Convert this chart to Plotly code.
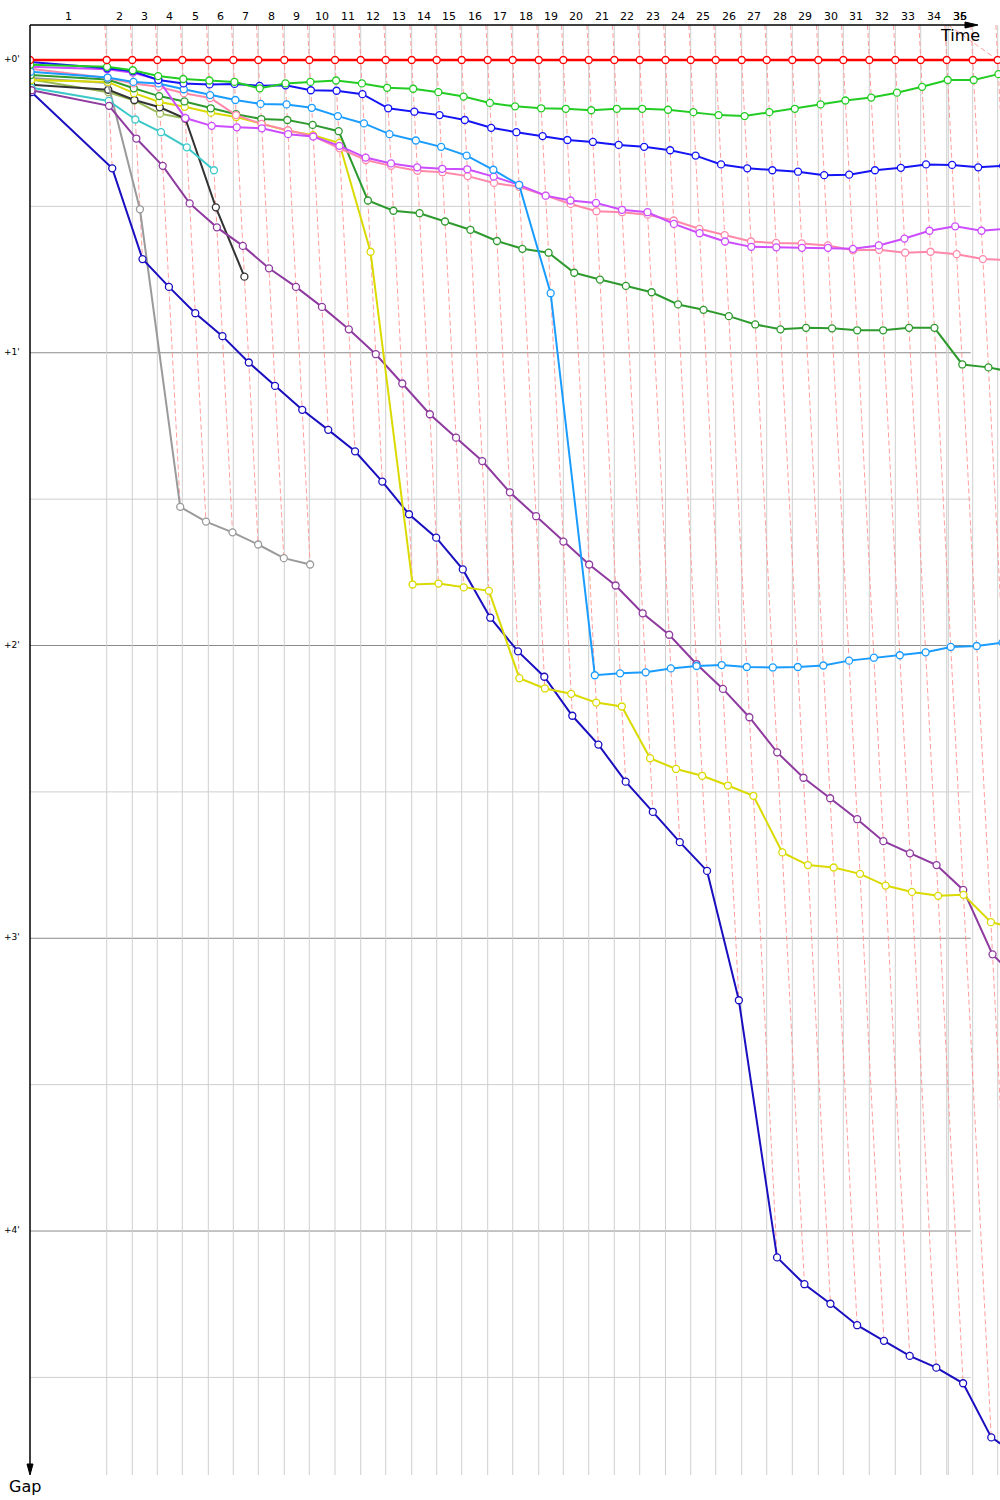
import numpy as np
import plotly.graph_objects as go

# ---------------- data ----------------
# leader lap durations (s), laps 1..37
lap_durations = [306.8, 102.4, 100.0, 100.0, 104.0, 100.0, 100.0, 104.0, 100.0, 102.8,
                 102.8, 100.0, 104.0, 100.0, 100.0, 104.0, 100.0, 104.0, 98.4, 101.6,
                 102.4, 101.6, 103.2, 100.8, 100.0, 104.0, 100.0, 102.4, 104.0, 100.0,
                 104.0, 104.0, 101.6, 104.0, 104.0, 100.0, 100.0]
finish_time = 3673.2          # extra marker line on the time axis
lap_labels = [str(i) for i in range(1, 37)]

# gap to leader (s) for each lap, starting at lap 0
gap_red = [0.0] * 38
gap_green = [1.0, 1.4, 2.1, 3.3, 3.9, 4.2, 4.5, 5.8, 4.8, 4.5, 4.2, 4.8, 5.7, 5.9, 6.6, 7.5,
             8.8, 9.5, 9.9, 10.0, 10.3, 10.0, 10.0, 10.2, 10.7, 11.3, 11.5, 10.7, 10.0, 9.1,
             8.3, 7.7, 6.7, 5.5, 4.1, 4.1, 2.9]
gap_blue = [0.4, 1.7, 2.3, 4.1, 4.8, 5.0, 4.9, 5.3, 5.2, 6.2, 6.3, 7.0, 9.9, 10.6, 11.3, 12.3,
            13.9, 14.8, 15.6, 16.4, 16.8, 17.4, 17.8, 18.5, 19.6, 21.4, 22.2, 22.6, 22.9, 23.6,
            23.5, 22.6, 22.1, 21.4, 21.5, 22.0, 21.7]
gap_lightblue = [2.4, 3.6, 4.5, 4.8, 6.0, 7.2, 8.2, 9.0, 9.1, 9.8, 11.5, 13.0, 15.2, 16.5, 17.8,
                 19.6, 22.5, 25.6, 47.8, 126.1, 125.7, 125.5, 124.7, 124.2, 124.0, 124.4, 124.5,
                 124.4, 124.1, 123.1, 122.5, 122.0, 121.4, 120.3, 120.1, 119.4]
gap_violet = [1.4, 1.9, 2.6, 4.0, 11.9, 13.5, 13.8, 14.0, 15.2, 15.7, 17.6, 20.0, 21.2, 22.0,
              22.3, 22.4, 23.9, 25.6, 27.8, 28.8, 29.3, 30.7, 31.2, 33.6, 35.5, 37.2, 38.3,
              38.4, 38.5, 38.5, 38.7, 38.0, 36.6, 35.0, 34.1, 35.0, 34.6]
gap_pink = [1.8, 3.7, 4.8, 5.5, 6.8, 7.8, 11.3, 13.1, 14.4, 15.6, 18.1, 20.5, 21.7, 22.7, 23.0,
            23.8, 25.2, 26.0, 27.8, 29.5, 31.0, 31.2, 31.7, 32.9, 34.6, 35.9, 37.2, 37.5, 37.6,
            38.0, 39.0, 38.9, 39.5, 39.3, 39.8, 40.8, 41.0]
gap_darkgreen = [3.1, 4.0, 5.8, 7.4, 8.5, 9.9, 11.1, 12.1, 12.3, 13.3, 14.6, 28.8, 30.9, 31.4,
                 33.1, 34.8, 37.1, 38.7, 39.5, 43.6, 45.0, 46.3, 47.6, 50.1, 51.2, 52.5, 54.2,
                 55.2, 54.9, 55.0, 55.4, 55.4, 54.9, 54.9, 62.4, 63.0, 64.0]
gap_yellow = [4.1, 4.5, 6.8, 8.6, 9.6, 10.8, 11.7, 13.0, 14.5, 15.4, 17.0, 39.3, 107.5, 107.3,
              108.1, 108.8, 126.7, 128.8, 129.9, 131.7, 132.5, 143.1, 145.3, 146.7, 148.7,
              150.8, 162.4, 165.0, 165.5, 166.8, 169.2, 170.5, 171.3, 171.1, 176.7, 178.0]
gap_purple = [6.2, 9.4, 16.1, 21.7, 29.4, 34.3, 38.1, 42.7, 46.5, 50.6, 55.2, 60.3, 66.3, 72.6,
              77.4, 82.2, 88.6, 93.5, 98.7, 103.4, 107.7, 113.4, 117.8, 123.8, 128.9, 134.7,
              141.9, 147.1, 151.3, 155.6, 160.1, 162.6, 165.0, 170.1, 183.3, 189.0]
gap_navy = [6.6, 22.2, 40.8, 46.5, 51.9, 56.6, 62.0, 66.8, 71.7, 75.8, 80.2, 86.4, 93.1, 97.9,
            104.4, 114.3, 121.2, 126.4, 134.4, 140.3, 147.9, 154.1, 160.3, 166.2, 192.7, 245.4,
            250.9, 254.9, 259.3, 262.5, 265.6, 268.0, 271.2, 282.3, 286.0]
gap_gray = [3.7, 4.7, 30.6, 91.6, 94.6, 96.8, 99.3, 102.1, 103.4]
gap_black = [5.1, 6.1, 8.2, 9.7, 12.0, 30.2, 44.4]
gap_olive = [4.0, 6.6, 8.3, 11.0, 12.0]
gap_cyan = [5.7, 8.4, 12.2, 14.8, 17.9, 22.6]

series = [
    ("Car 14", "#99bb55", gap_olive),
    ("Car 13", "#333333", gap_black),
    ("Car 12", "#9a9a9a", gap_gray),
    ("Car 11", "#3cc8c8", gap_cyan),
    ("Car 10", "#1a0fc0", gap_navy),
    ("Car 9", "#8e3a9e", gap_purple),
    ("Car 8", "#dada00", gap_yellow),
    ("Car 7", "#2e9a2e", gap_darkgreen),
    ("Car 6", "#ff88aa", gap_pink),
    ("Car 5", "#cc4cff", gap_violet),
    ("Car 4", "#1a9cff", gap_lightblue),
    ("Car 3", "#1414f5", gap_blue),
    ("Car 2", "#22cc22", gap_green),
    ("Car 1", "#ff0000", gap_red),
]

gap_ticks = [0, 60, 120, 180, 240]
gap_tick_labels = ["+0'", "+1'", "+2'", "+3'", "+4'"]
gap_minor = [30, 90, 150, 210, 270]

# ---------------- geometry ----------------
leader_times = np.concatenate([[0.0], np.cumsum(lap_durations)])
X_MIN, X_MAX = 0.0, 3880.0
Y_TOP, Y_BOT = -7.17, 290.0
GRID_END = 3763.0
AXIS_END = 3792.0

fig = go.Figure()

# iso-lap dashed lines (same lap for every car)
iso_x, iso_y = [], []
for lap in range(1, len(leader_times)):
    gmax = max(g[lap] for _, _, g in series if len(g) > lap)
    t = leader_times[lap]
    iso_x += [t + Y_TOP, t + gmax, None]
    iso_y += [Y_TOP, gmax, None]
# finish connector
iso_x += [finish_time, leader_times[36], None]
iso_y += [Y_TOP, 0.0, None]
fig.add_trace(go.Scatter(x=iso_x, y=iso_y, mode="lines", hoverinfo="skip", showlegend=False,
                         line=dict(color="rgba(255,140,140,0.85)", width=1, dash="5px,3px")))

for name, color, gaps in series:
    laps = np.arange(len(gaps))
    xs = leader_times[laps] + np.array(gaps)
    fig.add_trace(go.Scatter(
        x=xs, y=gaps, mode="lines+markers", name=name, showlegend=False,
        line=dict(color=color, width=2.5 if name == "Car 1" else 2),
        marker=dict(symbol="circle", size=7, color="white", line=dict(color=color, width=1.3)),
    ))

shapes = []
for g in gap_minor:
    shapes.append(dict(type="line", xref="x", yref="y", x0=X_MIN, x1=GRID_END, y0=g, y1=g,
                       line=dict(color="#cfcfcf", width=1), layer="below"))
for g in gap_ticks:
    shapes.append(dict(type="line", xref="x", yref="y", x0=X_MIN, x1=GRID_END, y0=g, y1=g,
                       line=dict(color="#8a8a8a", width=1), layer="below"))
for t in list(leader_times[1:]) + [finish_time]:
    shapes.append(dict(type="line", xref="x", yref="y", x0=t, x1=t, y0=Y_TOP, y1=Y_BOT,
                       line=dict(color="#cfcfcf", width=1), layer="below"))

# axis lines with arrow heads
shapes.append(dict(type="line", xref="paper", yref="paper", x0=0, x1=(AXIS_END - X_MIN) / (X_MAX - X_MIN) - 0.004,
                   y0=1, y1=1, line=dict(color="black", width=1.5)))
shapes.append(dict(type="path", xref="paper", yref="paper", xsizemode="pixel", ysizemode="pixel",
                   xanchor=(AXIS_END - X_MIN) / (X_MAX - X_MIN), yanchor=1,
                   path="M -13,-3 L 0,0 L -13,3 Z", fillcolor="black", line=dict(color="black", width=1)))
shapes.append(dict(type="line", xref="paper", yref="paper", x0=0, x1=0, y0=1, y1=0.006,
                   line=dict(color="black", width=1.5)))
shapes.append(dict(type="path", xref="paper", yref="paper", xsizemode="pixel", ysizemode="pixel",
                   xanchor=0, yanchor=0,
                   path="M -3,11 L 0,0 L 3,11 Z", fillcolor="black", line=dict(color="black", width=1)))

annotations = []
for i, lab in enumerate(lap_labels):
    mid = (leader_times[i] + leader_times[i + 1]) / 2
    mid = min(mid, (leader_times[34] + leader_times[35]) / 2 + 3)
    annotations.append(dict(x=mid, xref="x", y=1, yref="paper", yanchor="bottom", text=lab,
                            showarrow=False, font=dict(size=11, color="black"), yshift=0))
for g, lab in zip(gap_ticks, gap_tick_labels):
    annotations.append(dict(x=0, xref="paper", y=g, yref="y", xanchor="right", yanchor="middle",
                            text=lab, showarrow=False, xshift=-8, yshift=1,
                            font=dict(size=9, color="black")))
annotations.append(dict(x=(3720 - X_MIN) / (X_MAX - X_MIN), xref="paper", y=1, yref="paper",
                        yanchor="top", xanchor="center", text="Time", showarrow=False, yshift=1,
                        font=dict(size=16, color="black")))
annotations.append(dict(x=0, xref="paper", y=0, yref="paper", yanchor="top", xanchor="center",
                        text="Gap", showarrow=False, xshift=-5, yshift=0,
                        font=dict(size=16, color="black")))

fig.update_layout(
    width=1000, height=1500,
    margin=dict(l=30, r=0, t=25, b=25),
    paper_bgcolor="white", plot_bgcolor="white",
    font=dict(family="DejaVu Sans, Verdana, sans-serif"),
    xaxis=dict(range=[X_MIN, X_MAX], visible=False, showgrid=False, zeroline=False),
    yaxis=dict(range=[Y_BOT, Y_TOP], visible=False, showgrid=False, zeroline=False),
    shapes=shapes, annotations=annotations, showlegend=False,
)

fig.write_html("out.html",
               config={"displayModeBar": False},
               post_script="document.body.style.margin='0';document.body.style.overflow='hidden';")
